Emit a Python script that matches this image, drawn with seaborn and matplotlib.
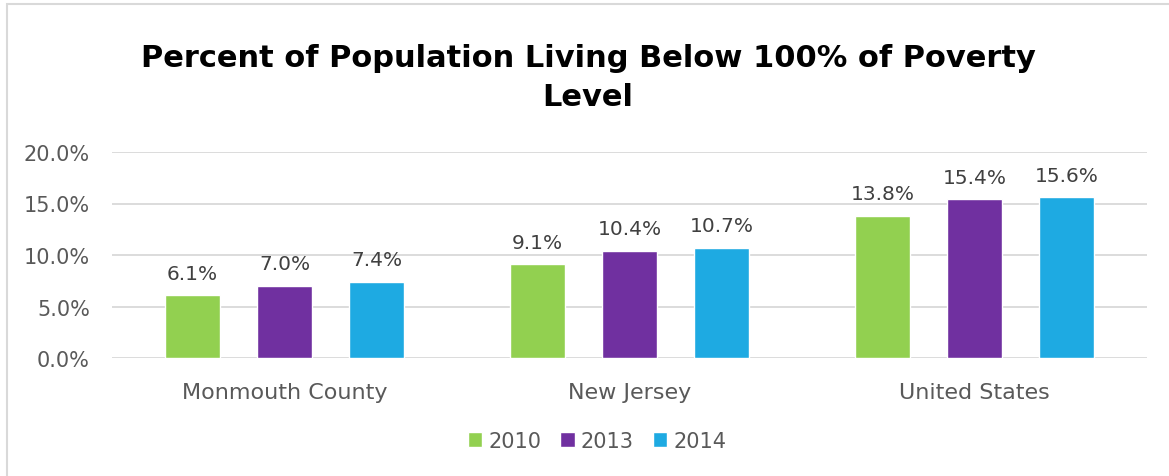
import matplotlib
matplotlib.use("Agg")
import matplotlib.pyplot as plt
import seaborn as sns
import pandas as pd
from matplotlib.patches import Rectangle

regions = ["Monmouth County", "New Jersey", "United States"]
years = ["2010", "2013", "2014"]
pct_2010 = [6.1, 9.1, 13.8]
pct_2013 = [7.0, 10.4, 15.4]
pct_2014 = [7.4, 10.7, 15.6]
colors = ["#92d050", "#7030a0", "#1eaae2"]

rows = []
for yr, vals in zip(years, [pct_2010, pct_2013, pct_2014]):
    for reg, v in zip(regions, vals):
        rows.append({"region": reg, "year": yr, "pct": v})
df = pd.DataFrame(rows)

sns.set_style("white")
plt.rcParams["font.family"] = ["DejaVu Sans"]
text_col = "#595959"

fig = plt.figure(figsize=(11.69, 4.77), dpi=100)
ax = fig.add_axes([112 / 1169, 1 - 359 / 477, 1035 / 1169, 206 / 477])

sns.barplot(data=df, x="region", y="pct", hue="year", palette=colors,
            width=0.8, gap=0.41, ax=ax, saturation=1, legend=True)

for cont in ax.containers:
    ax.bar_label(cont, labels=[f"{v:.1f}%" for v in cont.datavalues],
                 padding=9, fontsize=14.5, color="#404040")

ax.set_ylim(0, 20)
ax.set_xlim(-0.5, 2.5)
ax.set_yticks([0, 5, 10, 15, 20])
ax.set_yticklabels([f"{t:.1f}%" for t in [0, 5, 10, 15, 20]])
ax.yaxis.grid(True, color="#d9d9d9", linewidth=1.3)
ax.set_axisbelow(True)
for s in ax.spines.values():
    s.set_visible(False)
ax.tick_params(axis="y", length=0, labelsize=15, labelcolor=text_col, pad=16)
ax.tick_params(axis="x", length=0, labelsize=16, labelcolor=text_col, pad=17)
ax.set_xlabel("")
ax.set_ylabel("")

ax.legend(loc="center", bbox_to_anchor=(597 / 1169, 1 - 442 / 477),
          bbox_transform=fig.transFigure, ncol=3,
          frameon=False, fontsize=15, labelcolor=text_col,
          handlelength=0.7, handleheight=0.7, handletextpad=0.3,
          columnspacing=0.9)

fig.text(0.503, 1 - 78 / 477, "Percent of Population Living Below 100% of Poverty\nLevel",
         ha="center", va="center", fontsize=22, fontweight="bold",
         color="black", linespacing=1.45)

fig.patches.append(Rectangle((7 / 1169, -0.1), 1.2, 1.1 - 5 / 477,
                             transform=fig.transFigure, fill=False,
                             edgecolor="#d9d9d9", linewidth=1.5))

fig.savefig("out.png", dpi=100)
